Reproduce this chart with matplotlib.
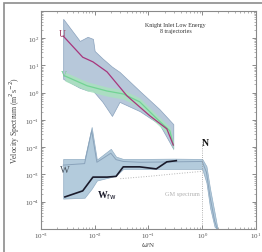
import matplotlib
matplotlib.use("Agg")
import matplotlib.pyplot as plt
from matplotlib.patches import Rectangle

plt.rcParams['font.family'] = ['Liberation Serif', 'DejaVu Serif']

# U spectrum and its confidence band (frequency normalised by N)
u_freq = [0.0026, 0.006, 0.0093, 0.017, 0.04, 0.107, 0.22, 0.29]
u_spec = [120, 20, 13.5, 5.8, 0.76, 0.14, 0.047, 0.012]
u_band_freq = [0.0026, 0.0053, 0.0074, 0.0093, 0.01, 0.014, 0.021, 0.029, 0.069, 0.16, 0.29]
u_band_hi = [510, 79, 112, 94, 34, 18, 9, 5.8, 1.15, 0.25, 0.07]
u_band_lo = [3.2, 1.5, 1.2, 1.2, 1.0, 0.46, 0.14, 0.46, 0.21, 0.07, 0.0087]

# V spectrum
v_freq = [0.0028, 0.0072, 0.017, 0.034, 0.069, 0.144, 0.25, 0.29]
v_spec = [4.1, 1.8, 1.15, 0.9, 0.46, 0.11, 0.04, 0.012]

# W spectrum, band and the drop past N
w_freq = [0.0026, 0.0065, 0.0088, 0.011, 0.02, 0.025, 0.034, 0.07, 0.3, 1.0, 1.2, 1.4, 1.7, 1.9]
w_spec = [0.0022, 0.0025, 0.04, 0.0028, 0.006, 0.0035, 0.003, 0.0028, 0.0029, 0.003, 0.0012, 1.5e-4, 2e-5, 1e-5]
w_hi = [0.0037, 0.0037, 0.055, 0.0035, 0.0087, 0.0045, 0.0037, 0.0037, 0.0038, 0.0037, 0.002, 3e-4, 4e-5, 1.2e-5]
w_lo = [1.3e-4, 1.4e-4, 3e-4, 6e-4, 8e-4, 9e-4, 1.6e-3, 1.6e-3, 1.6e-3, 1.6e-3, 5e-4, 6e-5, 1.2e-5, 1e-5]

# W from the free-wave fit
wfw_freq = [0.0028, 0.006, 0.0093, 0.017, 0.025, 0.034, 0.069, 0.14, 0.22, 0.33]
wfw_spec = [1.5e-4, 2.5e-4, 8e-4, 8e-4, 8.5e-4, 0.0019, 0.0019, 0.0016, 0.0029, 0.0032]

# Garrett-Munk reference
gm_freq = [0.03, 0.1, 0.3, 1.0]
gm_spec = [7e-4, 8.5e-4, 1.05e-3, 1.3e-3]

fig = plt.figure(figsize=(2.62, 2.53), dpi=100)
ax = fig.add_axes([0.156, 0.091, 0.821, 0.862])
ax.set_xscale('log')
ax.set_yscale('log')
ax.set_xlim(1e-3, 1e1)
ax.set_ylim(1e-5, 1e3)

ax.fill_between(u_band_freq, u_band_lo, u_band_hi, color='#b7c8da', ec='#8aa2bd', lw=0.5)
ax.fill_between(v_freq, [s * 0.65 for s in v_spec], [s * 1.4 for s in v_spec],
                color='#a8e3bd', alpha=0.8, lw=0)
ax.plot(v_freq, v_spec, color='#72d394', lw=0.9)
ax.plot(u_freq, u_spec, color='#a8357c', lw=0.9)

ax.fill_between(w_freq, w_lo, w_hi, color='#b3cbdc', ec='#93aec4', lw=0.5)
ax.plot(w_freq, w_spec, color='#8aa3bb', lw=0.7)
ax.plot(wfw_freq, wfw_spec, color='#1a1a2a', lw=1.2)
ax.plot(gm_freq, gm_spec, color='#b4b4b4', lw=0.7, ls=':')
ax.plot([1.0, 1.0], [2e-2, 1e-5], color='#9a9a9a', lw=0.6, ls=':')

ax.text(0.0022, 120, 'U', color='#a0385e', fontsize=7)
ax.text(0.0024, 4.0, 'V', color='#6ccf8c', fontsize=6)
ax.text(0.0023, 1.2e-3, 'W', color='#4a5561', fontsize=7.5)
ax.text(0.011, 1.5e-4, r'W$_{\rm fw}$', color='#1a1a2a', fontsize=7, fontweight='bold')
ax.text(0.98, 0.012, 'N', color='#111111', fontsize=7, fontweight='bold')
ax.text(0.2, 1.8e-4, 'GM spectrum', color='#b0b0b0', fontsize=4.5)
ax.text(0.32, 250, 'Knight Inlet Low Energy\n8 trajectories', color='#333333',
        fontsize=4.3, ha='center', va='center', linespacing=1.3)

ax.set_yticks([1e-4, 1e-3, 1e-2, 1e-1, 1e0, 1e1, 1e2])
ax.set_xticks([1e-3, 1e-2, 1e-1, 1e0, 1e1])
ax.tick_params(which='both', direction='in', top=True, right=True,
               labelsize=5, labelcolor='#555555', color='#777777', pad=1.5)
ax.tick_params(which='major', length=3, width=0.6)
ax.tick_params(which='minor', length=1.5, width=0.4)
for s in ax.spines.values():
    s.set_color('#8a8a8a')
    s.set_linewidth(0.8)
ax.set_xlabel(r'$\omega$/N', fontsize=5, color='#444444', labelpad=0)
ax.set_ylabel(r'Velocity Spectrum (m$^2$s$^{-2}$)', fontsize=5.5, color='#444444', labelpad=2)

# scanned page frame
fig.patches.append(Rectangle((4 / 262, -0.1), 1.2, 1 - 4 / 253 + 0.1, transform=fig.transFigure,
                             fill=False, ec='#8c8c8c', lw=1.2))

fig.savefig('out.png', dpi=100)
